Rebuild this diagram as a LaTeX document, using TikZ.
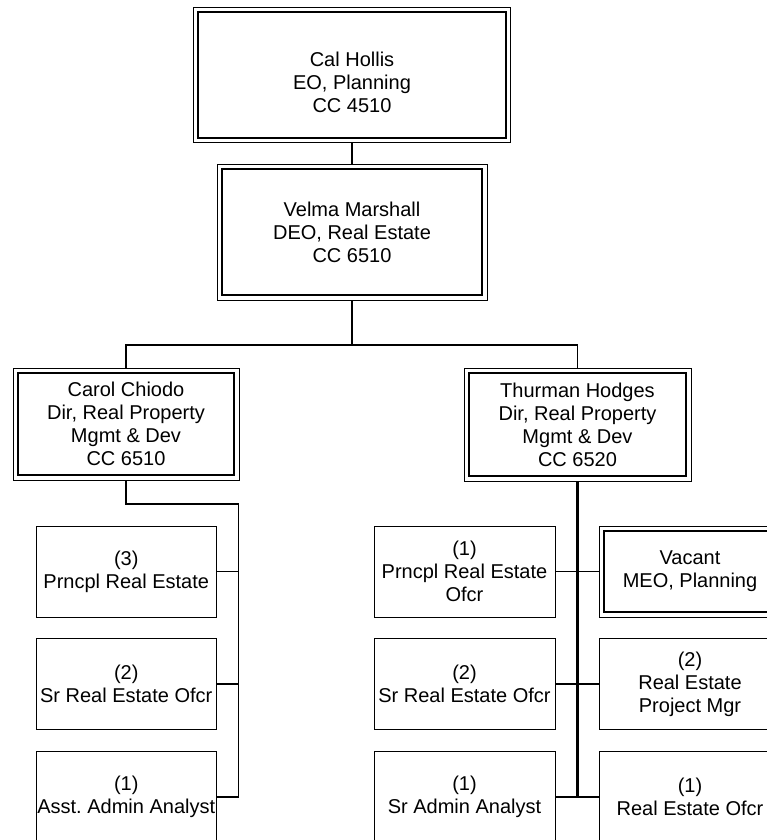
\documentclass[tikz,border=0pt]{standalone}
\usepackage{fontspec}
\setmainfont{Liberation Sans}
\frenchspacing
\begin{document}
\begin{tikzpicture}[x=1pt,y=-1pt,
  every node/.style={font=\fontsize{20pt}{23pt}\selectfont, align=center, inner sep=0pt, outer sep=0pt},
  box/.style={draw, line width=1pt, rectangle, minimum width=#1},
  box/.default=180.5pt,
  dbl/.style={draw, line width=0.9pt, rectangle},
  innerline/.style={line width=1.7pt},
  conn/.style={line width=1.7pt},
  mainconn/.style={line width=2.3pt}]
\useasboundingbox (0,0) rectangle (766,840);
\fill[white] (0,0) rectangle (766,840);

% top
\node[dbl, minimum width=317pt, minimum height=135.5pt,
  label={[yshift=-7pt]center:{Cal Hollis\\EO, Planning\\CC 4510}}] (cal) at (352,75) {};
\node[dbl, minimum width=270pt, minimum height=136pt] (velma) at (352,232) {Velma Marshall\\DEO, Real Estate\\CC 6510};
\node[dbl, minimum width=226pt, minimum height=112pt] (carol) at (126,424) {Carol Chiodo\\Dir, Real Property\\Mgmt \& Dev\\CC 6510};
\node[dbl, minimum width=227pt, minimum height=113pt] (thurman) at (577.5,424.5) {Thurman Hodges\\Dir, Real Property\\Mgmt \& Dev\\CC 6520};

% left column
\node[box, minimum height=91pt] (l1) at (126.25,571.5) {(3)\\Prncpl Real Estate};
\node[box, minimum height=91pt] (l2) at (126.25,684) {(2)\\Sr Real Estate Ofcr};
\node[box, minimum height=91pt] (l3) at (126.25,797) {(1)\\Asst. Admin Analyst};

% middle column
\node[box=181pt, minimum height=91pt] (m1) at (464.5,571.5) {(1)\\Prncpl Real Estate\\Ofcr};
\node[box=181pt, minimum height=91pt] (m2) at (464.5,684) {(2)\\Sr Real Estate Ofcr};
\node[box=181pt, minimum height=91pt] (m3) at (464.5,797) {(1)\\Sr Admin Analyst};

% right column
\node[dbl, minimum width=181pt, minimum height=91pt] (r1) at (690,571.5) {Vacant\\MEO, Planning};
\node[box=181pt, minimum height=91pt] (r2) at (690,684) {(2)\\Real Estate\\Project Mgr};
\node[box=181pt, minimum height=91pt] (r3) at (690,797) {(1)\\Real Estate Ofcr};

% inner lines of double boxes
\foreach \n in {cal,velma,carol,thurman,r1}
  \draw[innerline] ([shift={(4.7,4.7)}]\n.north west) rectangle ([shift={(-4.7,-4.7)}]\n.south east);

% connectors
\coordinate (bus) at (352,345);
\coordinate (cbustop) at (238.5,504);
\coordinate (cbusbot) at (238.5,797);

\draw[conn] (cal.south) -- (velma.north);
\draw[conn] (velma.south) -- (bus);
\draw[conn] (carol.north) |- (bus) -| (thurman.north);

\draw[conn] (carol.south) |- (cbustop) -- (cbusbot);
\draw[conn] (l1.east) -- (l1.east -| cbustop);
\draw[conn] (l2.east) -- (l2.east -| cbustop);
\draw[conn] (l3.east) -- (cbusbot);

\draw[mainconn] (thurman.south) -- (thurman.south |- m3.east);
\draw[conn] (m1.east) -- (r1.west);
\draw[conn] (m2.east) -- (r2.west);
\draw[conn] (m3.east) -- (r3.west);
\end{tikzpicture}
\end{document}
